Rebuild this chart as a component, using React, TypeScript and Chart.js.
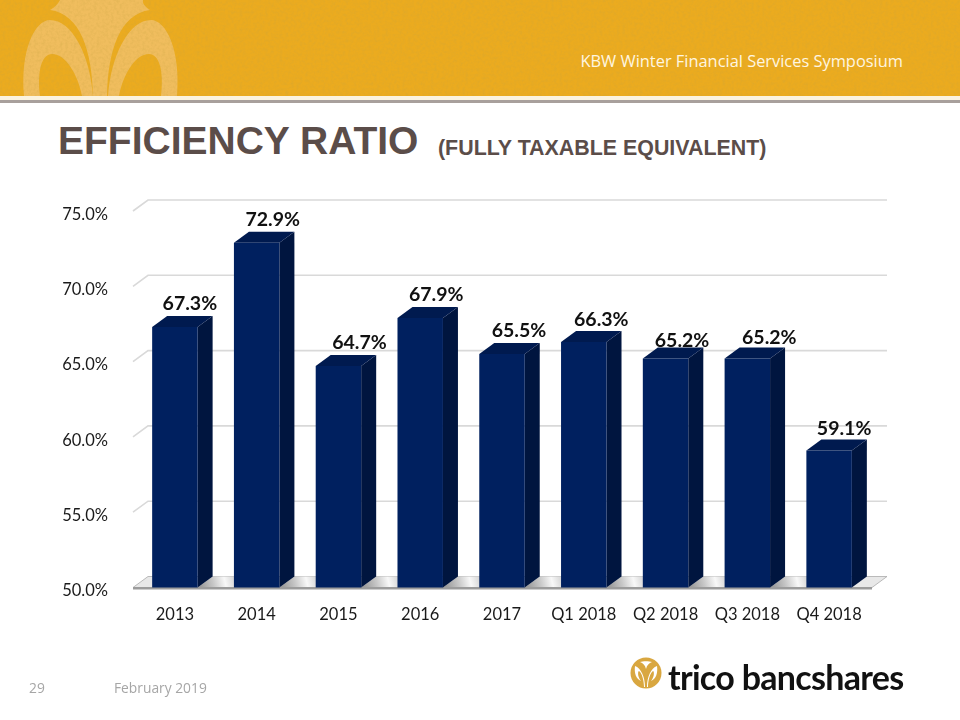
import React, { useEffect, useRef } from "react";
import { Chart, registerables } from "chart.js";

Chart.register(...registerables);

const categories = ["2013", "2014", "2015", "2016", "2017", "Q1 2018", "Q2 2018", "Q3 2018", "Q4 2018"];
const efficiencyRatio = [67.3, 72.9, 64.7, 67.9, 65.5, 66.3, 65.2, 65.2, 59.1];
const yTickStep = 5;
const yMin = 50;
const yMax = 75;

// Layout tweaks (label placement of the slide, not data)
const labelNudgeX = [15, 16, 21, 16, 17, 17.5, 16.5, 22, 15];
const labelNudgeY = [1, 1, 1, 1, 1, 2, 6, 3, 2];
const DX = 15;
const DY = 11;
const FONT = "Lato, Carlito, 'Open Sans', sans-serif";

const threeD = {
  id: "threeD",
  beforeDatasetsDraw(chart: any) {
    const { ctx, scales } = chart;
    const y = scales.y;
    const left = chart.chartArea.left - 1;
    const right = chart.chartArea.right + 2;
    ctx.save();
    // back wall grid lines and left wall ticks
    ctx.strokeStyle = "#D9D9D9";
    ctx.lineWidth = 1.6;
    for (let v = yMin + yTickStep; v <= yMax; v += yTickStep) {
      const py = y.getPixelForValue(v);
      ctx.beginPath();
      ctx.moveTo(left, py);
      ctx.lineTo(left + DX, py - DY);
      ctx.lineTo(right + DX, py - DY);
      ctx.stroke();
    }
    // floor
    const base = y.getPixelForValue(yMin);
    const bars = chart.getDatasetMeta(0).data;
    ctx.beginPath();
    ctx.moveTo(left, base);
    ctx.lineTo(left + DX, base - DY);
    ctx.lineTo(right + DX, base - DY);
    ctx.lineTo(right, base);
    ctx.closePath();
    ctx.fillStyle = "#E8E8E8";
    ctx.fill();
    ctx.strokeStyle = "#ABABAB";
    ctx.lineWidth = 0.8;
    ctx.stroke();
    // shaded floor between bars
    bars.forEach((b: any, i: number) => {
      const next = bars[i + 1];
      if (!next) return;
      const x0 = b.x + b.width / 2;
      const x1 = next.x - next.width / 2;
      const g = ctx.createLinearGradient(x0, base, x1 + DX * 0.6, base - DY);
      g.addColorStop(0, "#8F8F8F");
      g.addColorStop(0.35, "#C8C8C8");
      g.addColorStop(0.6, "#F8F8F8");
      g.addColorStop(0.85, "#D0D0D0");
      g.addColorStop(1, "#A0A0A0");
      ctx.fillStyle = g;
      ctx.beginPath();
      ctx.moveTo(x0, base);
      ctx.lineTo(x0 + DX, base - DY);
      ctx.lineTo(x1 + DX, base - DY);
      ctx.lineTo(x1, base);
      ctx.closePath();
      ctx.fill();
    });
    // floor front edge
    ctx.fillStyle = "#9C9C9C";
    ctx.fillRect(left, base - 0.5, right - left, 2.5);
    // bar sides and tops
    bars.forEach((b: any) => {
      const l = b.x - b.width / 2;
      const r = b.x + b.width / 2;
      ctx.fillStyle = "#00153F";
      ctx.beginPath();
      ctx.moveTo(r, b.y);
      ctx.lineTo(r + DX, b.y - DY);
      ctx.lineTo(r + DX, base - DY);
      ctx.lineTo(r, base);
      ctx.closePath();
      ctx.fill();
      ctx.fillStyle = "#001A4F";
      ctx.beginPath();
      ctx.moveTo(l, b.y);
      ctx.lineTo(l + DX, b.y - DY);
      ctx.lineTo(r + DX, b.y - DY);
      ctx.lineTo(r, b.y);
      ctx.closePath();
      ctx.fill();
    });
    ctx.restore();
  },
  afterDatasetsDraw(chart: any) {
    const { ctx } = chart;
    const bars = chart.getDatasetMeta(0).data;
    ctx.save();
    ctx.font = `bold 19.5px ${FONT}`;
    ctx.fillStyle = "#111111";
    ctx.textAlign = "center";
    ctx.textBaseline = "middle";
    bars.forEach((b: any, i: number) => {
      ctx.fillText(
        efficiencyRatio[i].toFixed(1) + "%",
        b.x + labelNudgeX[i],
        b.y - DY - 13 + labelNudgeY[i]
      );
    });
    ctx.restore();
  },
};

function Banner() {
  const L = "#F0BD5E";
  return (
    <svg width="960" height="96" style={{ position: "absolute", left: 0, top: 0 }}>
      <defs>
        <filter id="grain" x="0" y="0" width="100%" height="100%">
          <feTurbulence type="fractalNoise" baseFrequency="0.35" numOctaves="3" seed="4" />
          <feColorMatrix values="0 0 0 0 0.55  0 0 0 0 0.36  0 0 0 0 0.05  0 0 0 1.1 -0.42" />
        </filter>
      </defs>
      <rect width="960" height="96" fill="#EBAB1F" />
      <path fill={L} d="M60 0 L143 0 Q142 5 150 10 C120 14 108 50 107 96 L93 96 C92 50 80 14 50 10 Q57 6 60 0 Z" />
      <path
        fill={L}
        fillRule="evenodd"
        d="M24 96 C20 50 35 20 50 20 C72 20 90 55 93 96 Z M40 96 C37 70 42 54 52 54 C66 54 78 75 82 96 Z"
      />
      <path
        fill={L}
        fillRule="evenodd"
        d="M177 96 C181 50 166 20 151 20 C129 20 111 55 108 96 Z M161 96 C164 70 159 54 149 54 C135 54 123 75 119 96 Z"
      />
      <rect width="960" height="96" filter="url(#grain)" opacity="0.45" />
    </svg>
  );
}

function LogoMark() {
  return (
    <svg width="32" height="32" style={{ position: "absolute", left: 630, top: 657 }} viewBox="0 0 32 32">
      <circle cx="16" cy="16" r="15.5" fill="#D9A740" />
      <path fill="#fff" d="M15 30 C15 20 11 11 5 9 C4 16 6 22 11 24 C7 19 8 14 9 14 C12 16 14 24 14 30 Z" />
      <path fill="#fff" d="M17 30 C17 20 21 11 27 9 C28 16 26 22 21 24 C25 19 24 14 23 14 C20 16 18 24 18 30 Z" />
      <path fill="#fff" d="M10 5 C13 6 15 8 16 12 C17 8 19 6 22 5 C19 4 13 4 10 5 Z" />
    </svg>
  );
}

const abs = (left: number, top: number, extra: React.CSSProperties): React.CSSProperties => ({
  position: "absolute",
  left,
  top,
  whiteSpace: "nowrap",
  lineHeight: 1,
  ...extra,
});

export default function App() {
  const ref = useRef<HTMLCanvasElement>(null);
  useEffect(() => {
    const chart = new Chart(ref.current as HTMLCanvasElement, {
      type: "bar",
      data: {
        labels: categories,
        datasets: [
          {
            data: efficiencyRatio,
            backgroundColor: "#00205F",
            borderWidth: 0,
            barPercentage: 0.556,
            categoryPercentage: 1,
          },
        ],
      },
      options: {
        responsive: false,
        animation: false,
        layout: { padding: { left: 0, right: 90, top: 211, bottom: 0 } },
        plugins: { legend: { display: false }, tooltip: { enabled: false } },
        scales: {
          x: {
            border: { display: false },
            grid: { display: false },
            afterFit: (s: any) => {
              s.height = 132.5;
            },
            ticks: { color: "#1A1A1A", font: { family: FONT, size: 16.5 }, padding: 9, maxRotation: 0, autoSkip: false },
          },
          y: {
            min: yMin,
            max: yMax,
            border: { display: false },
            grid: { display: false },
            afterFit: (s: any) => {
              s.width = 134;
            },
            ticks: {
              stepSize: yTickStep,
              color: "#1A1A1A",
              padding: 18,
              labelOffset: 3.5,
              font: { family: FONT, size: 16.5 },
              callback: (v: any) => Number(v).toFixed(1) + "%",
            },
          },
        },
      },
      plugins: [threeD],
    } as any);
    return () => chart.destroy();
  }, []);

  return (
    <div style={{ position: "fixed", left: 0, top: 0, width: 960, height: 720, background: "#fff", overflow: "hidden" }}>
      <Banner />
      <div style={{ position: "absolute", left: 0, top: 96, width: 960, height: 4, background: "#FBF3DF" }} />
      <div style={{ position: "absolute", left: 0, top: 100, width: 960, height: 3, background: "#A8A09C" }} />
      <div style={abs(580.5, 49, { color: "#FFF6E0", font: "16.4px 'Open Sans', sans-serif" })}>
        KBW Winter Financial Services Symposium
      </div>
      <div style={abs(58, 121, { color: "#5B4D49", fontFamily: "'Liberation Sans', sans-serif", fontWeight: 700, fontSize: 39 })}>
        EFFICIENCY RATIO
      </div>
      <div style={abs(438, 138, { color: "#5B4D49", fontFamily: "'Liberation Sans', sans-serif", fontWeight: 700, fontSize: 21.4 })}>
        (FULLY TAXABLE EQUIVALENT)
      </div>
      <canvas ref={ref} width={960} height={720} style={{ position: "absolute", left: 0, top: 0 }} />
      <div style={abs(29, 678, { color: "#A6A6A6", font: "13.8px 'Open Sans', sans-serif" })}>29</div>
      <div style={abs(114, 678, { color: "#A6A6A6", font: "13.8px 'Open Sans', sans-serif" })}>February 2019</div>
      <LogoMark />
      <div style={abs(668, 656, { color: "#111", font: "700 34px Lato, sans-serif", letterSpacing: -0.7 })}>
        trico bancshares
      </div>
    </div>
  );
}
